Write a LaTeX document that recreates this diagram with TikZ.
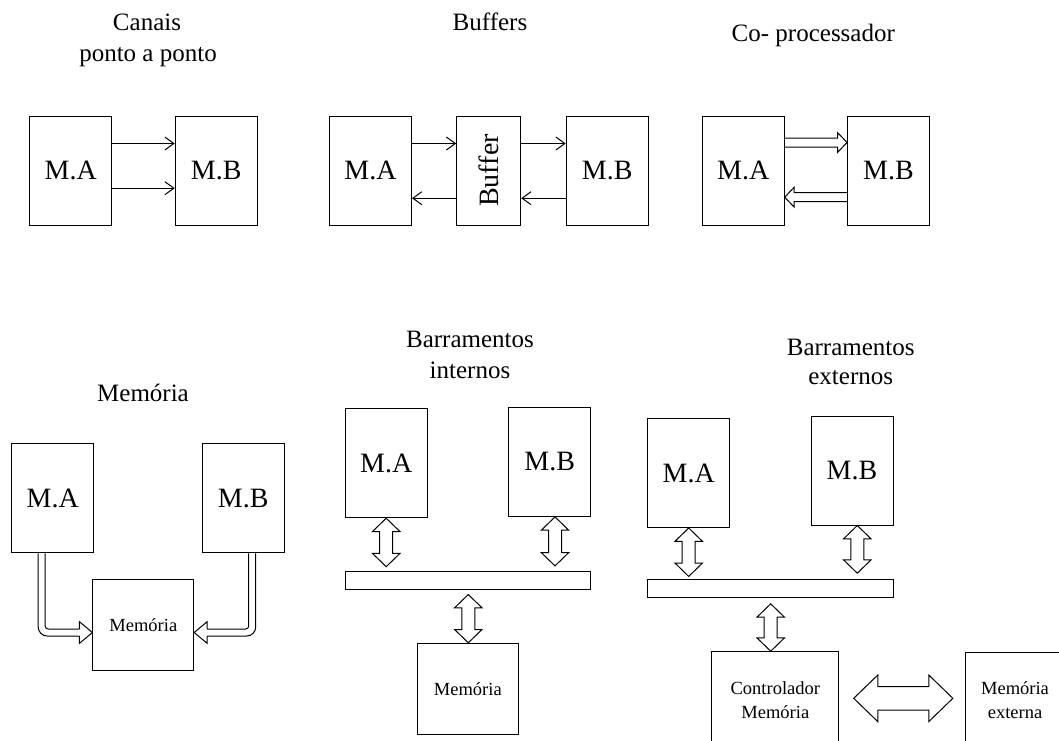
\documentclass[tikz,border=0pt]{standalone}
\usepackage{fontspec}
\setmainfont[Ligatures=NoCommon]{Liberation Serif}
\usetikzlibrary{calc,arrows.meta}

\tikzset{
  box/.style={draw, line width=1pt, inner sep=0pt, minimum width=82pt,
    minimum height=109pt, font=\fontsize{28}{32}\selectfont},
  smalltext/.style={font=\fontsize{18.5}{23.4}\selectfont, align=center},
  heading/.style={font=\fontsize{25}{30}\selectfont, anchor=base, inner sep=0pt},
  link/.style={line width=1pt, -{Straight Barb[length=9pt,width=13pt]}},
  hollow/.style={line width=1pt, line join=miter},
  bar/.style={draw, line width=1pt, inner sep=0pt, minimum height=18pt},
}

% hollow single arrow: tail, tip, shaft half-width, head half-width, head length
\newcommand{\hollowarrow}[5]{%
  \coordinate (ha-c) at ($(#2)!#5!(#1)$);
  \draw[hollow] ($(#1)!#3!90:(#2)$) -- ($(ha-c)!#3!90:(#2)$)
    -- ($(ha-c)!#4!90:(#2)$) -- (#2) -- ($(ha-c)!#4!-90:(#2)$)
    -- ($(ha-c)!#3!-90:(#2)$) -- ($(#1)!#3!-90:(#2)$);
}
% hollow two-headed arrow: end, end, shaft half-width, head half-width, head length
\newcommand{\hollowdouble}[5]{%
  \coordinate (hd-a) at ($(#1)!#5!(#2)$);
  \coordinate (hd-b) at ($(#2)!#5!(#1)$);
  \draw[hollow] (#1) -- ($(hd-a)!#4!90:(#2)$) -- ($(hd-a)!#3!90:(#2)$)
    -- ($(hd-b)!#3!90:(#2)$) -- ($(hd-b)!#4!90:(#2)$) -- (#2)
    -- ($(hd-b)!#4!-90:(#2)$) -- ($(hd-b)!#3!-90:(#2)$)
    -- ($(hd-a)!#3!-90:(#2)$) -- ($(hd-a)!#4!-90:(#2)$) -- cycle;
}

\begin{document}
\begin{tikzpicture}[x=1pt,y=-1pt]
\useasboundingbox (0,0) rectangle (1059,740);
\clip (0,0) rectangle (1059,740);

% ---- Canais ponto a ponto
\node[heading] (t1a) at (147,30.5) {Canais};
\node[heading] (t1b) at (148,61) {ponto a ponto};
\node[box] (ma1) at (70.8,170.5) {M.A};
\node[box] (mb1) at (216.2,170.5) {M.B};
\draw[link] ($(ma1.north east)+(0,28)$) -- ($(mb1.north west)+(0,28)$);
\draw[link] ($(ma1.north east)+(0,72.7)$) -- ($(mb1.north west)+(0,72.7)$);

% ---- Buffers
\node[heading] (t2) at (490,30) {Buffers};
\node[box] (ma2) at (370.5,170.5) {M.A};
\node[box, minimum width=64pt] (buf) at (488.7,170.5) {};
\node[font=\fontsize{28}{32}\selectfont, rotate=90, inner sep=0pt] (buftext) at (buf.center) {Buffer};
\node[box] (mb2) at (607.2,170.5) {M.B};
\draw[link] ($(ma2.north east)+(0,28)$) -- ($(buf.north west)+(0,28)$);
\draw[link] ($(buf.north east)+(0,28)$) -- ($(mb2.north west)+(0,28)$);
\draw[link] ($(buf.north west)+(0,82.7)$) -- ($(ma2.north east)+(0,82.7)$);
\draw[link] ($(mb2.north west)+(0,82.7)$) -- ($(buf.north east)+(0,82.7)$);

% ---- Co-processador
\node[heading] (t3) at (813.3,41) {Co- processador};
\node[box] (ma3) at (743.2,170.5) {M.A};
\node[box] (mb3) at (888.5,170.5) {M.B};
\coordinate (c1a) at ($(ma3.north east)+(0,27)$);
\coordinate (c1b) at ($(mb3.north west)+(0,27)$);
\hollowarrow{c1a}{c1b}{4.5pt}{10pt}{9.5pt}
\coordinate (c2a) at ($(mb3.north west)+(0,81.7)$);
\coordinate (c2b) at ($(ma3.north east)+(0,81.7)$);
\hollowarrow{c2a}{c2b}{4.5pt}{10pt}{9.5pt}

% ---- Memória
\node[heading] (t4) at (143,401.7) {Memória};
\node[box] (mam) at (52.7,498.3) {M.A};
\node[box] (mbm) at (243.2,498.3) {M.B};
\node[box, smalltext, minimum width=100.7pt, minimum height=90.7pt] (memm) at (143.3,624.7) {Memória};
% left bent arrow from M.A into the memory
\coordinate (la-o) at ($(mam.south west)+(27,0)$);
\coordinate (la-i) at ($(mam.south west)+(34,0)$);
\coordinate (la-tip) at (memm.west |- 0,632.5);
\draw[hollow, rounded corners=9pt] (la-o) -- (la-o |- 0,636) -- ($(la-tip)+(-13,3.5)$);
\draw[hollow, rounded corners=3pt] (la-i) -- (la-i |- 0,629) -- ($(la-tip)+(-13,-3.5)$);
\draw[hollow] ($(la-tip)+(-13,3.5)$) -- ($(la-tip)+(-13,10.8)$) -- (la-tip)
  -- ($(la-tip)+(-13,-10.8)$) -- ($(la-tip)+(-13,-3.5)$);
% right bent arrow from M.B into the memory
\coordinate (ra-o) at ($(mbm.south west)+(54,0)$);
\coordinate (ra-i) at ($(mbm.south west)+(47,0)$);
\coordinate (ra-tip) at (memm.east |- 0,632.5);
\draw[hollow, rounded corners=9pt] (ra-o) -- (ra-o |- 0,636) -- ($(ra-tip)+(13,3.5)$);
\draw[hollow, rounded corners=3pt] (ra-i) -- (ra-i |- 0,629) -- ($(ra-tip)+(13,-3.5)$);
\draw[hollow] ($(ra-tip)+(13,3.5)$) -- ($(ra-tip)+(13,10.8)$) -- (ra-tip)
  -- ($(ra-tip)+(13,-10.8)$) -- ($(ra-tip)+(13,-3.5)$);

% ---- Barramentos internos
\node[heading] (t5a) at (470,347.3) {Barramentos};
\node[heading] (t5b) at (470,378.3) {internos};
\node[box] (mai) at (386.2,463.2) {M.A};
\node[box] (mbi) at (549.7,461.9) {M.B};
\node[bar, minimum width=245.7pt] (busi) at (467.9,580) {};
\node[box, smalltext, minimum width=101pt, minimum height=91pt] (memi) at (467.8,688.8) {Memória};
\coordinate (i1a) at (mai.south);
\coordinate (i1b) at ($(mai.south)+(0,48.5)$);
\hollowdouble{i1a}{i1b}{6.5pt}{13.7pt}{13.3pt}
\coordinate (i2a) at ($(mbi.south)+(5.3,0)$);
\coordinate (i2b) at ($(mbi.south)+(5.3,49)$);
\hollowdouble{i2a}{i2b}{6.5pt}{13.7pt}{13.3pt}
\coordinate (i3a) at ($(busi.south)+(0.4,5)$);
\coordinate (i3b) at ($(memi.north)+(0.5,0)$);
\hollowdouble{i3a}{i3b}{6.5pt}{13.7pt}{13.3pt}

% ---- Barramentos externos
\node[heading] (t6a) at (850.7,355) {Barramentos};
\node[heading] (t6b) at (850.7,384.3) {externos};
\node[box] (mae) at (688.7,473) {M.A};
\node[box] (mbe) at (852,470.5) {M.B};
\node[bar, minimum width=246pt] (buse) at (770.3,588.3) {};
\node[box, smalltext, minimum width=127.3pt, minimum height=96.6pt] (ctrl) at (775.3,700) {Controlador\\Memória};
\node[box, smalltext, minimum width=98.6pt, minimum height=96pt] (extm) at (1015,700) {Memória\\externa};
\coordinate (e1a) at (mae.south);
\coordinate (e1b) at ($(mae.south)+(0,48.4)$);
\hollowdouble{e1a}{e1b}{6.5pt}{13.7pt}{13.3pt}
\coordinate (e2a) at ($(mbe.south)+(5.3,0)$);
\coordinate (e2b) at ($(mbe.south)+(5.3,47.7)$);
\hollowdouble{e2a}{e2b}{6.5pt}{13.7pt}{13.3pt}
\coordinate (e3a) at ($(buse.south)+(0.4,6)$);
\coordinate (e3b) at ($(ctrl.north)+(-4.6,0)$);
\hollowdouble{e3a}{e3b}{6.5pt}{13.7pt}{13.3pt}
\coordinate (e4a) at ($(ctrl.east)+(14.3,-1.7)$);
\coordinate (e4b) at ($(extm.west)+(-12.4,-1.7)$);
\hollowdouble{e4a}{e4b}{11.7pt}{23.3pt}{24pt}
\end{tikzpicture}
\end{document}
